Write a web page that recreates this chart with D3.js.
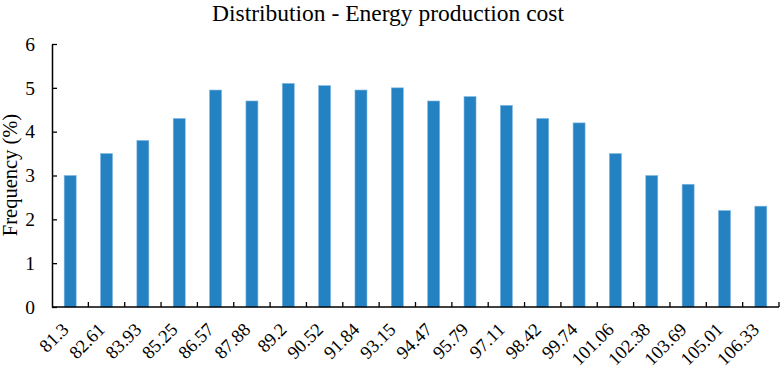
<!DOCTYPE html>
<html>
<head>
<meta charset="utf-8">
<script src="https://cdn.jsdelivr.net/npm/d3@7"></script>
<style>
  body { margin: 0; background: #fff; }
  svg text { font-family: "Liberation Serif", "Times New Roman", serif; fill: #000; }
</style>
</head>
<body>
<div id="my_dataviz"></div>
<script>
// data
var categories = ["81.3", "82.61", "83.93", "85.25", "86.57", "87.88", "89.2", "90.52", "91.84", "93.15",
                  "94.47", "95.79", "97.11", "98.42", "99.74", "101.06", "102.38", "103.69", "105.01", "106.33"];
var frequency = [3.0, 3.5, 3.8, 4.3, 4.95, 4.7, 5.1, 5.05, 4.95, 5.0,
                 4.7, 4.8, 4.6, 4.3, 4.2, 3.5, 3.0, 2.8, 2.2, 2.3];
var yTicks = [0, 1, 2, 3, 4, 5, 6];

// set the dimensions and margins of the graph
var margin = {top: 44, right: 3, bottom: 63, left: 52},
    width = 782 - margin.left - margin.right,
    height = 370 - margin.top - margin.bottom;

var svg = d3.select("#my_dataviz")
  .append("svg")
    .attr("width", width + margin.left + margin.right)
    .attr("height", height + margin.top + margin.bottom)
  .append("g")
    .attr("transform", "translate(" + margin.left + "," + margin.top + ")");

// X axis
var x = d3.scaleBand()
  .range([0, width])
  .domain(categories)
  .paddingInner(0.67)
  .paddingOuter(0.335);

var y = d3.scaleLinear()
  .domain([0, 6])
  .range([height, 0]);

// Bars
svg.selectAll("rect.bar")
  .data(frequency)
  .enter()
  .append("rect")
    .attr("class", "bar")
    .attr("x", function(d, i) { return x(categories[i]); })
    .attr("y", function(d) { return y(d); })
    .attr("width", x.bandwidth())
    .attr("height", function(d) { return height - y(d); })
    .attr("fill", "#2481c2")
    .attr("stroke", "#7fb7e3")
    .attr("stroke-width", 0.6);

// x axis line + ticks between categories (pointing inward)
var step = x.step();
var xg = svg.append("g").attr("transform", "translate(0," + height + ")");
xg.append("line")
  .attr("x1", 0).attr("x2", width)
  .attr("stroke", "#000").attr("stroke-width", 1.5);
xg.selectAll("line.tk")
  .data(d3.range(1, categories.length + 1))
  .enter().append("line")
    .attr("class", "tk")
    .attr("x1", function(i) { return i * step; })
    .attr("x2", function(i) { return i * step; })
    .attr("y1", 0).attr("y2", -5)
    .attr("stroke", "#000").attr("stroke-width", 1.3);
xg.selectAll("text")
  .data(categories)
  .enter().append("text")
    .attr("transform", function(d) {
      return "translate(" + (x(d) + x.bandwidth() / 2 - 5) + ",19)rotate(-45)";
    })
    .attr("text-anchor", "end")
    .attr("dy", "0.35em")
    .style("font-size", "18.5px")
    .text(function(d) { return d; });

// Y axis
svg.append("g")
  .call(d3.axisLeft(y).tickValues(yTicks).tickFormat(d3.format("d"))
    .tickSize(-5).tickSizeOuter(0).tickPadding(17))
  .attr("font-family", null)
  .attr("font-size", null)
  .call(function(g) {
    g.select(".domain").attr("stroke-width", 1.5);
    g.selectAll(".tick line").attr("stroke-width", 1.3);
    g.selectAll("text").style("font-size", "19.5px");
  });

// y label
svg.append("text")
  .attr("transform", "translate(" + (-35) + "," + (175 - margin.top) + ")rotate(-90)")
  .attr("text-anchor", "middle")
  .style("font-size", "20.5px")
  .text("Frequency (%)");

// title
svg.append("text")
  .attr("x", 388 - margin.left)
  .attr("y", 20.5 - margin.top)
  .attr("text-anchor", "middle")
  .style("font-size", "23.5px")
  .text("Distribution - Energy production cost");
</script>
</body>
</html>
